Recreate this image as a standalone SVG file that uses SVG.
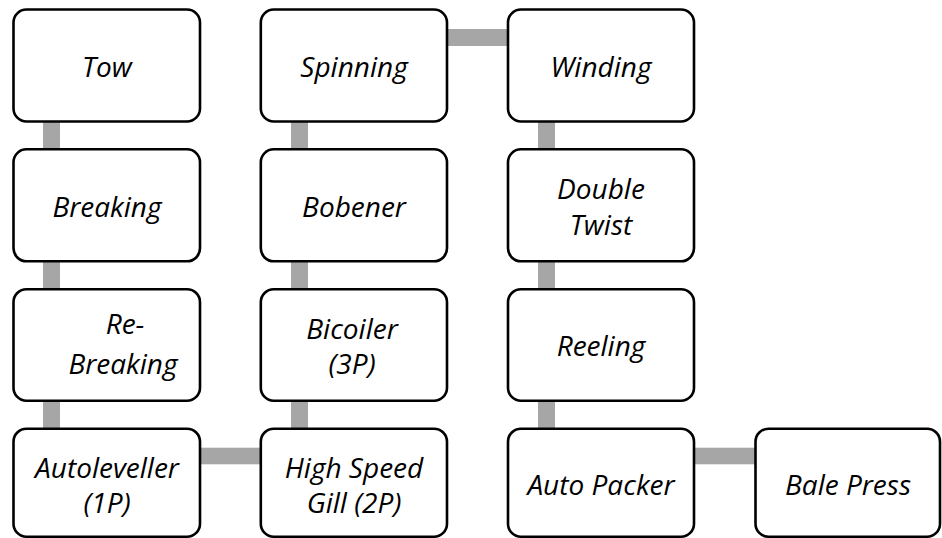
<svg xmlns="http://www.w3.org/2000/svg" width="942" height="538" viewBox="0 0 942 538">
<style>
.box{fill:#fff;stroke:#000;stroke-width:2.6}
.lbl{font-family:"Open Sans","Noto Sans","Liberation Sans",sans-serif;font-style:italic;font-size:28px;fill:#000;text-anchor:middle}
.con{fill:#a6a6a6;stroke:none}
</style>
<rect width="942" height="538" fill="#fff"/>
<g id="connectors">
<rect class="con" x="43" y="121" width="17" height="29"/>
<rect class="con" x="43" y="261" width="17" height="29"/>
<rect class="con" x="43" y="400" width="17" height="29"/>
<rect class="con" x="200" y="447.7" width="61" height="16.6"/>
<rect class="con" x="291" y="121" width="17" height="29"/>
<rect class="con" x="291" y="261" width="17" height="29"/>
<rect class="con" x="291" y="400" width="17" height="29"/>
<rect class="con" x="447" y="29" width="61" height="17"/>
<rect class="con" x="538" y="121" width="17" height="29"/>
<rect class="con" x="538" y="261" width="17" height="29"/>
<rect class="con" x="538" y="400" width="17" height="29"/>
<rect class="con" x="694" y="447.7" width="62" height="16.6"/>
</g>
<g id="tow"><rect class="box" x="13.5" y="9.5" width="186.5" height="112" rx="13"/><text class="lbl" x="107" y="77">Tow</text></g>
<g id="breaking"><rect class="box" x="13.5" y="149.3" width="186.5" height="112" rx="13"/><text class="lbl" x="107" y="217">Breaking</text></g>
<g id="rebreaking"><rect class="box" x="13.5" y="289.2" width="186.5" height="111.5" rx="13"/><text class="lbl" x="125" y="333.5">Re-</text><text class="lbl" x="123" y="373.5">Breaking</text></g>
<g id="autoleveller"><rect class="box" x="13.5" y="428.7" width="186.5" height="108" rx="13"/><text class="lbl" x="107" y="477.5">Autoleveller</text><text class="lbl" x="107" y="512.5">(1P)</text></g>
<g id="spinning"><rect class="box" x="260.8" y="9.5" width="186.2" height="112" rx="13"/><text class="lbl" x="354" y="77">Spinning</text></g>
<g id="bobener"><rect class="box" x="260.8" y="149.3" width="186.2" height="112" rx="13"/><text class="lbl" x="354" y="217">Bobener</text></g>
<g id="bicoiler"><rect class="box" x="260.8" y="289.2" width="186.2" height="111.5" rx="13"/><text class="lbl" x="352" y="338.5">Bicoiler</text><text class="lbl" x="352" y="373.5">(3P)</text></g>
<g id="highspeed"><rect class="box" x="260.8" y="428.7" width="186.2" height="108" rx="13"/><text class="lbl" x="354" y="477.5">High Speed</text><text class="lbl" x="354" y="512.5">Gill (2P)</text></g>
<g id="winding"><rect class="box" x="508" y="9.5" width="186" height="112" rx="13"/><text class="lbl" x="601" y="77">Winding</text></g>
<g id="doubletwist"><rect class="box" x="508" y="149.3" width="186" height="112" rx="13"/><text class="lbl" x="601" y="199">Double</text><text class="lbl" x="601" y="234.5">Twist</text></g>
<g id="reeling"><rect class="box" x="508" y="289.2" width="186" height="111.5" rx="13"/><text class="lbl" x="601" y="356">Reeling</text></g>
<g id="autopacker"><rect class="box" x="508" y="428.7" width="186" height="108" rx="13"/><text class="lbl" x="601" y="494.5">Auto Packer</text></g>
<g id="balepress"><rect class="box" x="755.5" y="428.7" width="184.5" height="108" rx="13"/><text class="lbl" x="848" y="494.5">Bale Press</text></g>
</svg>
